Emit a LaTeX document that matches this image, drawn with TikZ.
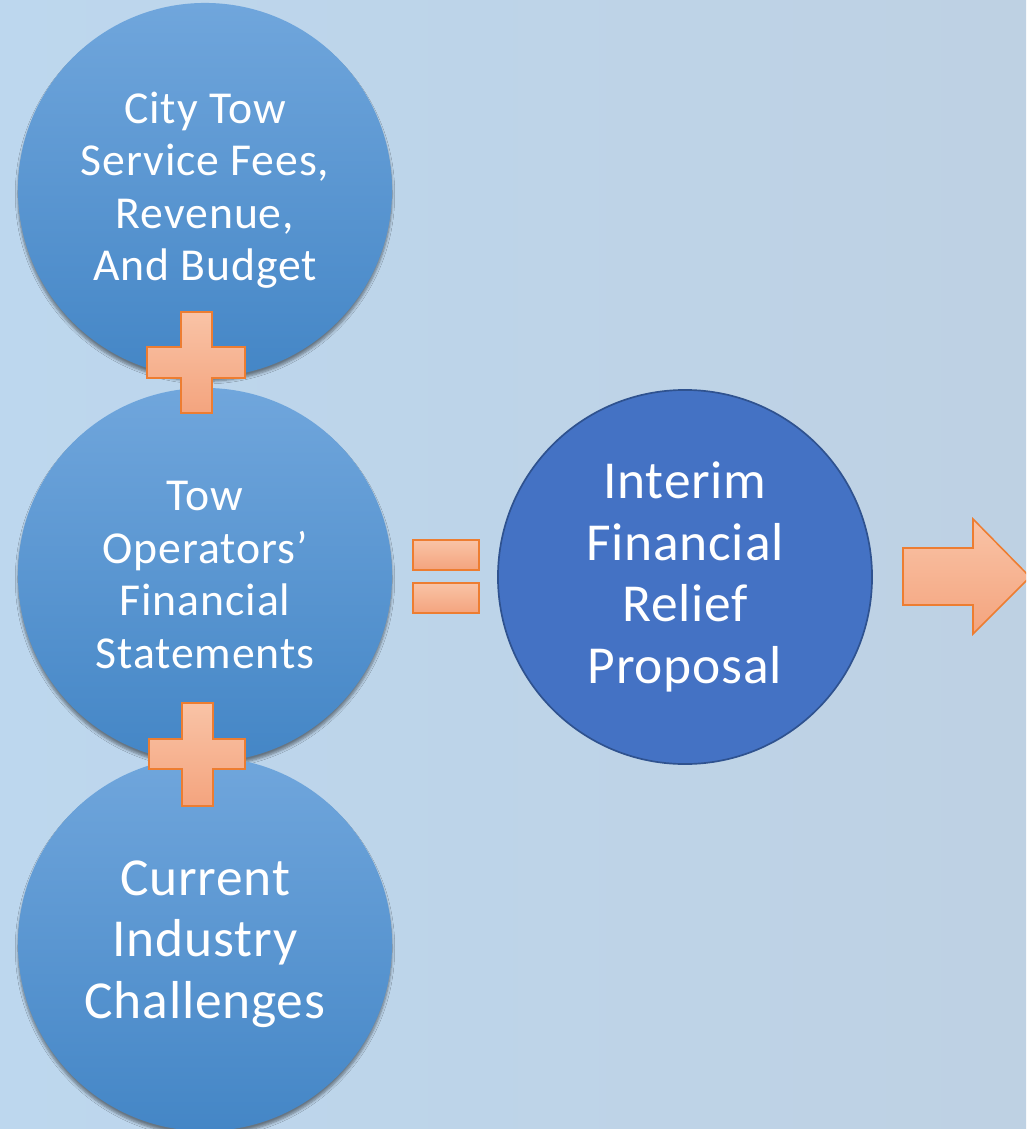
\documentclass[tikz,border=0pt]{standalone}
\usepackage{fontspec}
\setmainfont{Carlito}
\usetikzlibrary{shadows.blur}

\definecolor{bgleft}{HTML}{BDD7EE}
\definecolor{bgright}{HTML}{BED1E3}
\definecolor{bubbletop}{HTML}{70A6DC}
\definecolor{bubblebot}{HTML}{4486C6}
\definecolor{resultblue}{HTML}{4472C4}
\definecolor{resultline}{HTML}{2F528F}
\definecolor{signtop}{HTML}{F9C3A6}
\definecolor{signbot}{HTML}{F4A47E}
\definecolor{signline}{HTML}{ED7D31}

\begin{document}
\begin{tikzpicture}[
    x=0.025cm,
    y=-0.025cm,
    bubble/.style={
      circle,
      minimum size=9.35cm,
      inner sep=0pt,
      align=center,
      text=white,
      top color=bubbletop,
      bottom color=bubblebot,
      blur shadow={shadow xshift=0pt, shadow yshift=-3pt, shadow blur steps=6, shadow opacity=45}
    },
    result/.style={
      circle,
      minimum size=9.35cm,
      inner sep=0pt,
      align=center,
      text=white,
      fill=resultblue,
      draw=resultline,
      line width=1.2pt
    },
    sign/.style={draw=signline, line width=1.1pt, top color=signtop, bottom color=signbot},
    smalltext/.style={font=\fontsize{32.5}{37.3}\selectfont\addfontfeature{LetterSpace=2}},
    bigtext/.style={font=\fontsize{38}{43.8}\selectfont\addfontfeature{LetterSpace=1.5}}
]

% Hintergrund
\useasboundingbox (0,0) rectangle (1026,1129);
\clip (0,0) rectangle (1026,1129);
\fill[left color=bgleft, right color=bgright] (0,0) rectangle (1026,1129);

% Drei Eingangskreise links
\node[bubble, smalltext] (fees) at (205,190) {City Tow\\Service Fees,\\Revenue,\\And Budget};
\node[bubble, smalltext] (statements) at (205,575) {Tow\\Operators’\\Financial\\Statements};
\node[bubble, bigtext] (challenges) at (205,944) {Current\\Industry\\Challenges};

% Ergebniskreis
\node[result, bigtext] (proposal) at (685,577) {Interim\\Financial\\Relief\\Proposal};

% Pluszeichen
\draw[sign] (181,312) -| (212,347) -| (245,378) -| (212,413) -| (181,378) -| (147,347) -| (181,312) -- cycle;
\draw[sign] (182,703) -| (213,739) -| (245,769) -| (213,806) -| (182,769) -| (149,739) -| (182,703) -- cycle;

% Gleichheitszeichen
\draw[sign] (413,540) rectangle (479,570);
\draw[sign] (413,583) rectangle (479,613);

% Pfeil nach rechts
\draw[sign] (903,548) -- (973,548) -- (973,519) -- (1030,577) -- (973,634) -- (973,605) -- (903,605) -- cycle;

\end{tikzpicture}
\end{document}
